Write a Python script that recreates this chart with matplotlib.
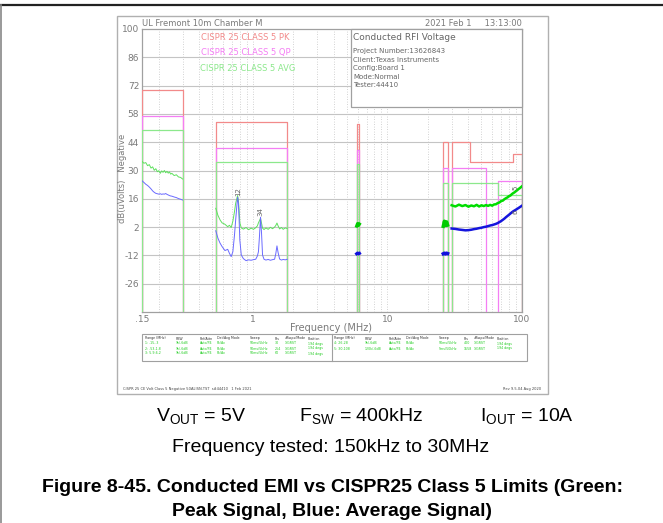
import matplotlib.pyplot as plt
from matplotlib.patches import Rectangle

plt.rcParams['mathtext.fontset'] = 'custom'
plt.rcParams['mathtext.rm'] = 'Liberation Sans'

W, H = 663, 523

# CISPR 25 class 5 limits: (band edges in MHz, levels in dBuV)
pk_limits = [([0.15, 0.30], [70]), ([0.53, 1.8], [54]), ([5.9, 6.2], [53]),
             ([26, 28], [44]), ([30, 41, 85, 100], [44, 34, 38])]
qp_limits = [([0.15, 0.30], [57]), ([0.53, 1.8], [41]), ([5.9, 6.2], [40]),
             ([26, 28], [31]), ([30, 54], [31]), ([66, 100], [25])]
avg_limits = [([0.15, 0.30], [50]), ([0.53, 1.8], [34]), ([5.9, 6.2], [33]),
              ([26, 28], [24]), ([30, 66, 100], [24, 18])]

# band 1: 150 kHz - 300 kHz
b1_freq = [0.150, 0.155, 0.160, 0.165, 0.170, 0.175, 0.180, 0.185, 0.190, 0.195,
           0.200, 0.205, 0.210, 0.215, 0.220, 0.225, 0.230, 0.235, 0.240, 0.245,
           0.250, 0.260, 0.270, 0.280, 0.290, 0.300]
b1_peak = [34.5, 33.6, 33.9, 32.4, 32.9, 31.2, 31.8, 30.1, 30.9, 29.4,
           29.9, 28.6, 29.8, 29.1, 30.0, 28.9, 29.6, 28.7, 29.3, 28.2,
           28.6, 27.5, 27.9, 26.8, 26.6, 25.8]
b1_avg = [24.9, 24.1, 23.2, 22.6, 21.8, 20.9, 19.9, 19.2, 18.7, 18.5,
          18.3, 18.5, 18.2, 18.4, 18.3, 18.6, 18.2, 17.9, 17.6, 17.4,
          17.3, 16.9, 16.6, 16.1, 15.8, 15.4]

# band 2: 530 kHz - 1.8 MHz
b2_freq = [0.53, 0.55, 0.57, 0.59, 0.62, 0.65, 0.67, 0.69, 0.71, 0.73,
           0.745, 0.76, 0.77, 0.78, 0.79, 0.80, 0.82, 0.85, 0.89, 0.93,
           0.97, 1.01, 1.05, 1.08, 1.10, 1.12, 1.14, 1.16, 1.18, 1.21,
           1.25, 1.30, 1.35, 1.40, 1.45, 1.48, 1.51, 1.54, 1.58, 1.63,
           1.68, 1.74, 1.80]
b2_peak = [11.3, 7.8, 5.6, 4.1, 3.4, 2.2, 2.9, 1.8, 4.9, 9.6,
           13.8, 16.2, 17.6, 15.4, 11.0, 4.2, 1.6, 1.0, 1.8, 0.7,
           1.5, 0.9, 1.7, 2.6, 4.1, 5.2, 6.4, 3.9, 1.5, 0.8,
           1.6, 0.9, 1.9, 1.2, 2.0, 2.8, 4.0, 2.6, 1.1, 1.8,
           0.9, 1.6, 1.3]
b2_avg = [0.2, -3.5, -5.9, -7.6, -9.6, -9.0, -11.0, -12.6, -10.2, -2.0,
          5.5, 12.4, 16.8, 14.1, 6.0, -4.4, -11.8, -13.6, -14.6, -14.2,
          -14.4, -14.1, -13.9, -12.3, -10.2, -2.4, 6.9, -1.1, -11.8, -13.9,
          -14.3, -14.0, -14.4, -14.1, -13.9, -11.2, -7.3, -10.6, -13.8, -14.3,
          -14.0, -14.2, -13.9]

# band 3: 5.9 - 6.2 MHz
b3_freq = [5.9, 6.0, 6.1, 6.2]
b3_peak = [2.5, 3.8, 2.8, 3.5]
b3_avg = [-11.2, -10.8, -11.3, -11.0]

# band 4: 26 - 28 MHz
b4_freq = [26.0, 26.5, 27.0, 27.5, 28.0]
b4_peak = [2.4, 4.9, 2.8, 4.6, 3.0]
b4_avg = [-11.2, -10.9, -11.3, -10.9, -11.1]

# band 5: 30 - 108 MHz (plotted to 100)
b5_freq = [30, 32, 34, 36, 38, 40, 42, 44, 46, 48, 50, 52, 54, 56, 58, 60,
           62, 64, 66, 68, 70, 72, 74, 76, 78, 80, 82, 84, 86, 88, 90, 92,
           94, 96, 98, 100]
b5_peak = [12.8, 12.2, 13.1, 12.4, 12.9, 12.1, 12.7, 12.3, 13.0, 12.2, 12.8, 12.4,
           12.9, 12.5, 13.0, 12.6, 13.2, 13.3, 13.9, 14.2, 14.9, 15.1, 15.8, 16.3,
           16.7, 17.3, 17.6, 18.3, 18.8, 19.2, 19.8, 20.2, 20.8, 21.2, 21.7, 22.2]
b5_avg = [1.3, 1.1, 0.8, 0.6, 0.4, 0.5, 0.7, 1.0, 1.2, 1.5, 1.7, 2.0,
          2.2, 2.5, 2.8, 3.0, 3.3, 3.6, 4.0, 4.5, 5.0, 5.6, 6.2, 6.9,
          7.5, 8.1, 8.7, 9.3, 9.8, 10.2, 10.6, 11.0, 11.4, 11.8, 12.2, 12.6]

y_ticks = [-26, -12, 2, 16, 30, 44, 58, 72, 86, 100]
x_ticks = [0.15, 1, 10, 100]
x_tick_labels = ['.15', '1', '10', '100']

table_head = ['Range (MHz)', 'RBW', 'Ref/Attn', 'Det/Avg Mode', 'Sweep', 'Pts',
              '#Swps/Mode', 'Position']
table_left = [['1: .15-.3', '9k/-6dB', 'Auto/P4', 'Pk/Av', '50ms/5kHz', '30', '1/GRST', '194 degs'],
              ['2: .53-1.8', '9k/-6dB', 'Auto/P4', 'Pk/Av', '50ms/5kHz', '254', '1/GRST', '194 degs'],
              ['3: 5.9-6.2', '9k/-6dB', 'Auto/P4', 'Pk/Av', '50ms/5kHz', '60', '1/GRST', '194 degs']]
table_right = [['4: 26-28', '9k/-6dB', 'Auto/P4', 'Pk/Av', '50ms/5kHz', '400', '1/GRST', '194 degs'],
               ['5: 30-108', '120k/-6dB', 'Auto/P4', 'Pk/Av', '5ms/50kHz', '1558', '1/GRST', '194 degs']]

GRAY = '#7a7a7a'
NARROW = ['Liberation Sans Narrow', 'DejaVu Sans']


def fx(x):
    return x / W


def fy(y):
    return 1 - y / H


def box(x0, y0, x1, y1, **kw):
    r = Rectangle((fx(x0), fy(y1)), fx(x1) - fx(x0), fy(y0) - fy(y1),
                  transform=fig.transFigure, **kw)
    fig.add_artist(r)


def limit_path(edges, levels):
    xs, ys = [edges[0]], [-40]
    for i, lv in enumerate(levels):
        xs += [edges[i], edges[i + 1]]
        ys += [lv, lv]
    xs.append(edges[-1])
    ys.append(-40)
    return xs, ys


fig = plt.figure(figsize=(W / 100, H / 100), dpi=100)

# page frame
fig.add_artist(plt.Line2D([0, 1], [fy(5), fy(5)], color='#222222', lw=1.6,
                          transform=fig.transFigure))
fig.add_artist(plt.Line2D([fx(1), fx(1)], [0, fy(5)], color='#888888', lw=1.2,
                          transform=fig.transFigure))

# analyzer screenshot frame
box(117, 16, 548, 394, fill=False, edgecolor='#b0b0b0', lw=1.0)

ax = fig.add_axes([fx(142), fy(312), (522 - 142) / W, (312 - 29) / H])
ax.set_xscale('log')
ax.set_xlim(0.15, 100)
ax.set_ylim(-40, 100)
for s in ax.spines.values():
    s.set_color('#a0a0a0')
    s.set_linewidth(0.9)

for yv in y_ticks[:-1]:
    ax.axhline(yv, color='#c4c4c4', lw=0.8, zorder=1)
for dec in [0.1, 1, 10]:
    for m in range(1, 10):
        f = dec * m
        if 0.15 < f < 100:
            ax.axvline(f, color='#c4c4c4', lw=0.6, ls=(0, (1, 2)), zorder=1)

ax.set_yticks(y_ticks)
ax.set_yticklabels([str(v) for v in y_ticks], fontsize=6.5, color=GRAY, family=NARROW)
ax.set_xticks(x_ticks)
ax.set_xticklabels(x_tick_labels, fontsize=6.5, color=GRAY, family=NARROW)
ax.minorticks_off()
ax.tick_params(length=0, pad=2)

for limits, col in [(pk_limits, '#f28a8a'), (qp_limits, '#f47ef4'), (avg_limits, '#8ce88c')]:
    for edges, levels in limits:
        xs, ys = limit_path(edges, levels)
        ax.plot(xs, ys, color=col, lw=0.9, zorder=3)

thin = dict(lw=0.7, zorder=4)
ax.plot(b1_freq, b1_peak, color='#5fe05f', **thin)
ax.plot(b1_freq, b1_avg, color='#6a6aff', **thin)
ax.plot(b2_freq, b2_peak, color='#5fe05f', **thin)
ax.plot(b2_freq, b2_avg, color='#6a6aff', **thin)
ax.plot(b3_freq, b3_peak, color='#00cc00', lw=2.2, zorder=4)
ax.plot(b3_freq, b3_avg, color='#1010dd', lw=2.2, zorder=4)
ax.plot(b4_freq, b4_peak, color='#00cc00', lw=2.5, zorder=4)
ax.plot(b4_freq, b4_avg, color='#1010dd', lw=2.5, zorder=4)
ax.plot(b5_freq, b5_peak, color='#00dd00', lw=1.8, zorder=4)
ax.plot(b5_freq, b5_avg, color='#1515dd', lw=1.8, zorder=4)

# marker labels
mk = dict(fontsize=5, color='#666666', rotation=90, ha='center', va='bottom', zorder=5)
ax.text(0.775, 17.5, '12', **mk)
ax.text(1.14, 7.5, '34', **mk)
ax.text(90, 20.5, '5', **mk)
ax.text(90, 8.5, '6', **mk)

# header and legend text
txt = dict(family=NARROW, va='center')
fig.text(fx(142), fy(23), 'UL Fremont 10m Chamber M', fontsize=6, color=GRAY, **txt)
fig.text(fx(522), fy(23), '2021 Feb 1     13:13:00', fontsize=6, color=GRAY, ha='right', **txt)
fig.text(fx(201), fy(37), 'CISPR 25 CLASS 5 PK', fontsize=6, color='#f28a8a', **txt)
fig.text(fx(201), fy(52), 'CISPR 25 CLASS 5 QP', fontsize=6, color='#f47ef4', **txt)
fig.text(fx(200), fy(69), 'CISPR 25 CLASS 5 AVG', fontsize=6, color='#8ce88c', **txt)

# test info box
box(351, 29, 522, 107, facecolor='white', edgecolor='#a0a0a0', lw=0.9, zorder=2)
fig.text(fx(353), fy(38), 'Conducted RFI Voltage', fontsize=6.5, color='#666666', **txt)
info = ['Project Number:13626843', 'Client:Texas Instruments', 'Config:Board 1',
        'Mode:Normal', 'Tester:44410']
for i, line in enumerate(info):
    fig.text(fx(353), fy(51 + 8.6 * i), line, fontsize=5, color='#666666', **txt)

fig.text(fx(122), fy(178), 'dB(uVolts)   Negative', fontsize=6, color=GRAY, rotation=90,
         ha='center', va='center', family=NARROW)
fig.text(fx(331), fy(328), 'Frequency (MHz)', fontsize=7, color=GRAY, ha='center', **txt)

# scan settings table
box(142, 334, 527, 361, fill=False, edgecolor='#a0a0a0', lw=0.8)
fig.add_artist(plt.Line2D([fx(332), fx(332)], [fy(334), fy(361)], color='#a0a0a0', lw=0.8,
                          transform=fig.transFigure))
col_x = [145, 176, 200, 217, 250, 275, 285, 308]
for half, rows in [(0, table_left), (189, table_right)]:
    for c, name in enumerate(table_head):
        fig.text(fx(col_x[c] + half), fy(338.5), name, fontsize=2.3, color='#333333', **txt)
    for r, row in enumerate(rows):
        for c, cell in enumerate(row):
            fig.text(fx(col_x[c] + half), fy(343.5 + 5 * r), cell, fontsize=2.3,
                     color='#22cc22', **txt)

fig.text(fx(123), fy(389), 'CISPR 25 CE Volt Class 5 Negative 50ALISN.TST  s#44410   1 Feb 2021',
         fontsize=2.6, color='#444444', **txt)
fig.text(fx(541), fy(389), 'Rev 9.5.04 Aug 2020', fontsize=2.6, color='#444444', ha='right', **txt)

# operating conditions and caption
big = dict(fontsize=14, family='Liberation Sans', ha='center', va='center', color='black')
fig.text(fx(201), fy(417), r'V$_{\mathrm{OUT}}$ = 5V', **big)
fig.text(fx(361), fy(417), r'F$_{\mathrm{SW}}$ = 400kHz', **big)
fig.text(fx(527), fy(417), r'I$_{\mathrm{OUT}}$ = 10A', **big)
fig.text(fx(331), fy(447), 'Frequency tested: 150kHz to 30MHz', **big)
fig.text(fx(332), fy(488), 'Figure 8-45. Conducted EMI vs CISPR25 Class 5 Limits (Green:',
         fontweight='bold', **big)
fig.text(fx(332), fy(511), 'Peak Signal, Blue: Average Signal)', fontweight='bold', **big)

fig.savefig('out.png', dpi=100)
